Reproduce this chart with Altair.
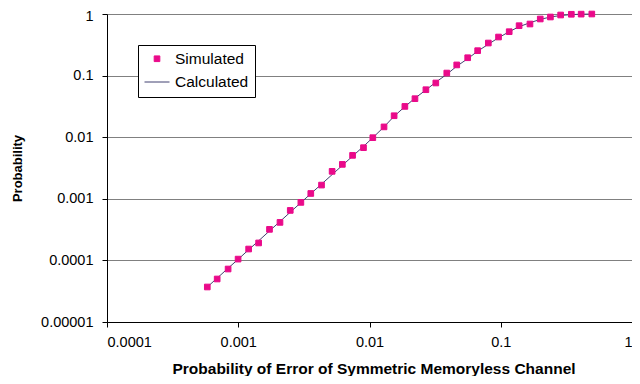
import altair as alt
import pandas as pd

# ---- data ----
error_prob = [0.000581, 0.000691, 0.000837, 0.000997, 0.00120, 0.00143, 0.00173, 0.00208,
              0.00249, 0.00300, 0.00357, 0.00431, 0.00519, 0.00621, 0.00743, 0.00900,
              0.0106, 0.0129, 0.0154, 0.0186, 0.0222, 0.0269, 0.0320, 0.0388,
              0.0462, 0.0560, 0.0667, 0.0804, 0.0962, 0.116, 0.138, 0.167,
              0.200, 0.239, 0.286, 0.345, 0.410, 0.494]
simulated = [3.70e-5, 4.99e-5, 7.25e-5, 1.05e-4, 1.53e-4, 1.92e-4, 3.19e-4, 4.14e-4,
             6.48e-4, 8.74e-4, 1.22e-3, 1.67e-3, 2.79e-3, 3.62e-3, 5.07e-3, 6.76e-3,
             9.82e-3, 0.0147, 0.0223, 0.0316, 0.0422, 0.0590, 0.0759, 0.110,
             0.149, 0.195, 0.254, 0.338, 0.423, 0.516, 0.646, 0.688,
             0.830, 0.894, 0.963, 0.990, 0.995, 1.0]
calculated = [3.70e-5, 5.16e-5, 7.47e-5, 1.04e-4, 1.49e-4, 2.08e-4, 3.01e-4, 4.28e-4,
              6.06e-4, 8.65e-4, 1.21e-3, 1.73e-3, 2.47e-3, 3.49e-3, 4.92e-3, 7.10e-3,
              9.82e-3, 0.0147, 0.0219, 0.0313, 0.0430, 0.0584, 0.0781, 0.105,
              0.142, 0.188, 0.249, 0.323, 0.412, 0.516, 0.622, 0.722,
              0.817, 0.894, 0.945, 0.978, 0.993, 0.998]
series_names = ["Simulated", "Calculated"]
x_ticks = [0.0001, 0.001, 0.01, 0.1, 1]
y_ticks = [0.00001, 0.0001, 0.001, 0.01, 0.1, 1]

PINK = "#ea0a8a"
LINE = "#404070"
FONT = "Liberation Sans"

sim_df = pd.DataFrame({"p": error_prob, "prob": simulated, "series": "Simulated"})
calc_df = pd.DataFrame({"p": error_prob, "prob": calculated, "series": "Calculated"})

x_scale = alt.Scale(type="log", domain=[0.0001, 1], nice=False)
y_scale = alt.Scale(type="log", domain=[0.00001, 1], nice=False)

x_axis = alt.Axis(values=x_ticks, format="~f", grid=False,
                  title="Probability of Error of Symmetric Memoryless Channel",
                  titleFontWeight="bold", titleFontSize=15.5, titleX=266.5, titleY=46,
                  titleBaseline="middle", labelFontSize=14.5, labelPadding=8,
                  tickSize=5, domainColor="#000000", tickColor="#000000")
y_axis = alt.Axis(values=y_ticks, format="~f", grid=True, gridColor="#808080",
                  gridWidth=1, title="Probability", titleFontWeight="bold",
                  titleFontSize=13, titleX=-90, titleY=154, titleAngle=270,
                  titleAlign="center", titleBaseline="middle",
                  labelFontSize=14.5, labelPadding=9, tickSize=5,
                  labelOffset={"condition": {"test": "datum.value >= 1", "value": 2}, "value": 0},
                  domainColor="#000000", tickColor="#000000")

x_enc = alt.X("p:Q", scale=x_scale, axis=x_axis)
y_enc = alt.Y("prob:Q", scale=y_scale, axis=y_axis)

legend = alt.Legend(title=None, orient="none", legendX=31, legendY=31,
                    direction="vertical", fillColor="white", strokeColor="#000000",
                    padding=6, labelFont=FONT, labelFontSize=15.5, labelColor="#000000",
                    labelOffset=5, rowPadding=1, symbolStrokeWidth=1, symbolOpacity=1)

line = alt.Chart(calc_df).mark_line(color=LINE, strokeWidth=1).encode(x=x_enc, y=y_enc)

points = alt.Chart(sim_df).mark_point(filled=True, opacity=1, strokeWidth=1).encode(
    x=x_enc,
    y=y_enc,
    fill=alt.Fill("series:N", scale=alt.Scale(domain=series_names, range=[PINK, LINE]), legend=legend),
    stroke=alt.Stroke("series:N", scale=alt.Scale(domain=series_names, range=[PINK, LINE]), legend=legend),
    shape=alt.Shape("series:N", scale=alt.Scale(domain=series_names, range=["square", "stroke"]), legend=legend),
    size=alt.Size("series:N", scale=alt.Scale(type="ordinal", domain=series_names, range=[32, 625]), legend=legend),
)

chart = alt.layer(line, points).properties(
    width=525, height=308,
    autosize=alt.AutoSizeParams(type="none"),
    padding={"left": 99, "top": 6, "right": 0, "bottom": 54},
).configure_view(stroke="#b0b0b0", strokeWidth=1).configure_axis(
    labelFont=FONT, titleFont=FONT, labelColor="#000000", titleColor="#000000"
).configure(background="white")

chart.save("out.html", embed_options={"renderer": "svg", "actions": False})
